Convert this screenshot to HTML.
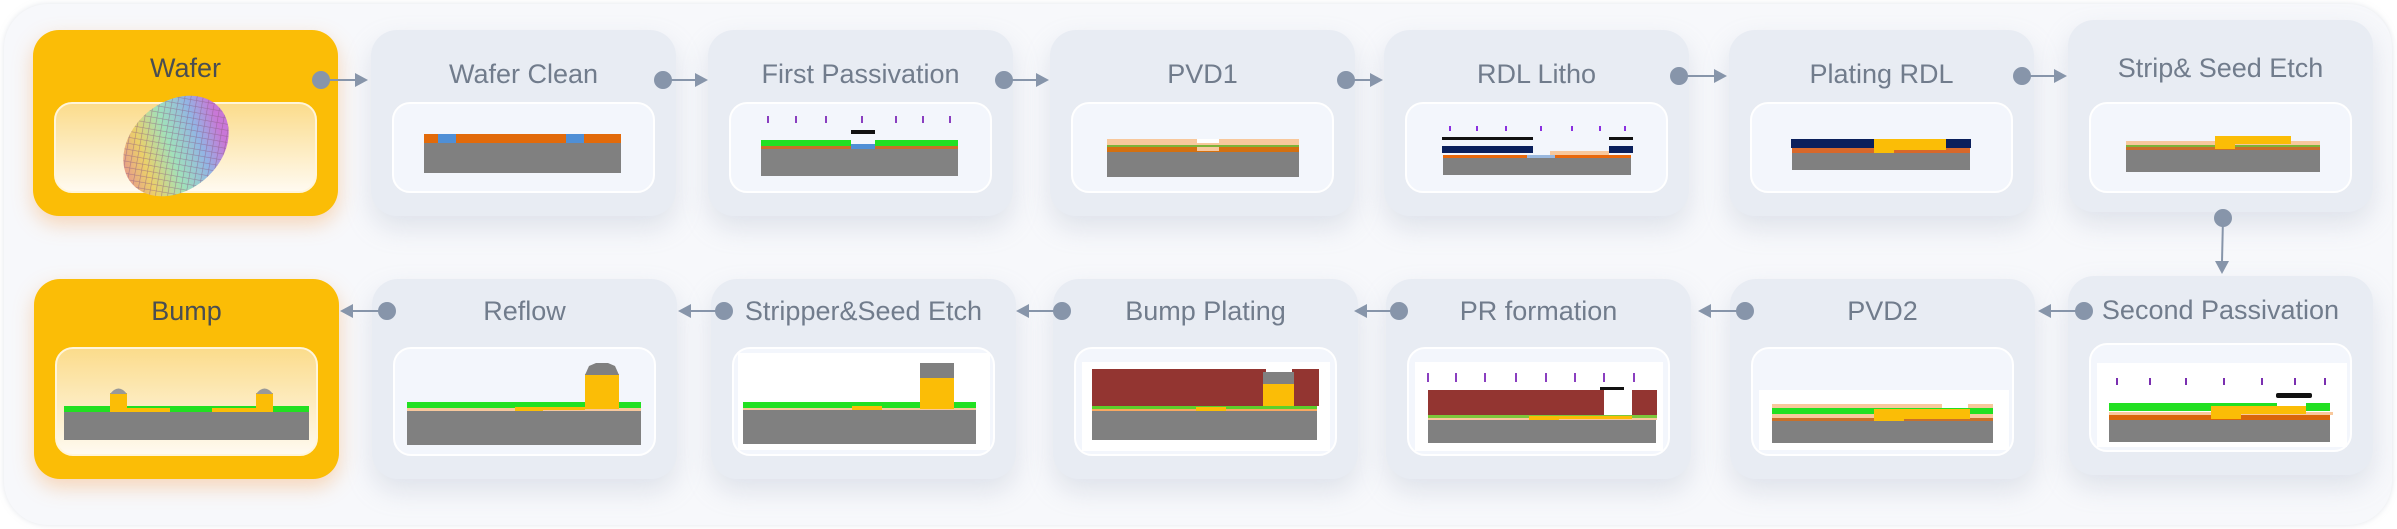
<!DOCTYPE html>
<html><head><meta charset="utf-8"><style>
*{margin:0;padding:0;box-sizing:border-box}
body{width:2397px;height:529px;background:#fff;position:relative;overflow:hidden;font-family:"Liberation Sans",sans-serif}
.panel{position:absolute;left:4px;top:4px;width:2388px;height:521px;border-radius:44px;background:#f7f8fb;box-shadow:0 0 6px rgba(200,205,215,.5)}
.card{position:absolute;width:305px;border-radius:26px;background:#e8ecf3;box-shadow:0 12px 26px rgba(160,172,195,.28)}
.r1{top:30px;height:186px}.r2{top:279px;height:200px}
.y{background:#fbbd06;box-shadow:0 8px 20px rgba(245,150,60,.35)}
.t{position:absolute;left:0;width:100%;text-align:center;font-size:27px;color:#717c8c;line-height:30px}
.r1 .t{top:29px}.r2 .t{top:17px}
.y .t{color:#4a4e52}
.in{position:absolute;left:21px;width:263px;border-radius:18px;background:#f3f6fc;border:2px solid #fff;overflow:visible}
.r1 .in{top:72px;height:91px}.r2 .in{top:68px;height:109px}
.y .in{background:linear-gradient(#fbdc8c,#fffaf0);border-color:#fff5da}
.in svg{position:absolute;left:-2px;top:-2px}
svg.c{position:absolute;left:0;top:0}
</style></head><body>
<div class="panel"></div>

<!-- Row 1 -->
<div class="card r1 y" style="left:33px"><div class="t" style="top:23px">Wafer</div><div class="in"></div></div>
<div class="card r1" style="left:371px"><div class="t">Wafer Clean</div><div class="in"><svg width="263" height="91">
<rect x="32" y="32" width="197" height="9" fill="#e26a0a"/><rect x="46" y="32" width="18" height="9" fill="#4f8fd6"/><rect x="174" y="32" width="18" height="9" fill="#4f8fd6"/><rect x="32" y="41" width="197" height="30" fill="#808080"/></svg></div></div>
<div class="card r1" style="left:708px"><div class="t">First Passivation</div><div class="in"><svg width="263" height="91">
<g fill="#8a3fc0"><rect x="38" y="14" width="2" height="7"/><rect x="66" y="14" width="2" height="7"/><rect x="96" y="14" width="2" height="7"/><rect x="132" y="14" width="2" height="7"/><rect x="166" y="14" width="2" height="7"/><rect x="193" y="14" width="2" height="7"/><rect x="220" y="14" width="2" height="7"/></g>
<rect x="122" y="28" width="24" height="4" fill="#111"/>
<rect x="32" y="38" width="90" height="6" fill="#22e022"/><rect x="146" y="38" width="83" height="6" fill="#22e022"/>
<rect x="32" y="44" width="197" height="3" fill="#c8702a"/><rect x="122" y="42" width="24" height="5" fill="#4f8fd6"/>
<rect x="32" y="47" width="197" height="27" fill="#828282"/></svg></div></div>
<div class="card r1" style="left:1050px"><div class="t">PVD1</div><div class="in"><svg width="263" height="91">
<rect x="36" y="37" width="192" height="6" fill="#f8c89c"/><rect x="36" y="43" width="192" height="2" fill="#7cb33a"/><rect x="36" y="45" width="192" height="5" fill="#d47010"/>
<rect x="126" y="37" width="22" height="4" fill="#fff"/><rect x="126" y="45" width="22" height="4" fill="#f8c89c"/>
<rect x="36" y="50" width="192" height="25" fill="#808080"/></svg></div></div>
<div class="card r1" style="left:1384px"><div class="t">RDL Litho</div><div class="in"><svg width="263" height="91">
<g fill="#8a2fe0"><rect x="44" y="24" width="2" height="5"/><rect x="71" y="24" width="2" height="5"/><rect x="100" y="24" width="2" height="5"/><rect x="135" y="24" width="2" height="5"/><rect x="166" y="24" width="2" height="5"/><rect x="194" y="24" width="2" height="5"/><rect x="219" y="24" width="2" height="5"/></g>
<rect x="37" y="35" width="91" height="3" fill="#111"/><rect x="204" y="35" width="24" height="3" fill="#111"/>
<rect x="37" y="44" width="91" height="7" fill="#0a1f5c"/><rect x="204" y="44" width="24" height="7" fill="#0a1f5c"/>
<rect x="145" y="49" width="59" height="4" fill="#f8c89c"/>
<rect x="38" y="53" width="188" height="3" fill="#e8680c"/><rect x="122" y="53" width="28" height="3" fill="#9ab8de"/>
<rect x="38" y="56" width="188" height="17" fill="#808080"/></svg></div></div>
<div class="card r1" style="left:1729px"><div class="t">Plating RDL</div><div class="in"><svg width="263" height="91">
<rect x="41" y="37" width="83" height="9" fill="#0a1f5c"/><rect x="196" y="37" width="25" height="9" fill="#0a1f5c"/>
<rect x="42" y="46" width="178" height="5" fill="#d8682a"/><rect x="124" y="37" width="72" height="11" fill="#fbbd06"/><rect x="124" y="48" width="20" height="3" fill="#fbbd06"/>
<rect x="42" y="51" width="178" height="17" fill="#808080"/></svg></div></div>
<div class="card r1" style="left:2068px;top:20px;height:192px"><div class="t" style="top:33px">Strip&amp; Seed Etch</div><div class="in" style="top:82px"><svg width="263" height="91">
<rect x="37" y="39" width="194" height="4" fill="#f8c89c"/><rect x="37" y="43" width="194" height="2" fill="#7cb33a"/><rect x="37" y="45" width="194" height="3" fill="#c8702a"/>
<rect x="126" y="34" width="76" height="8" fill="#fbbd06"/><rect x="126" y="42" width="20" height="5" fill="#fbbd06"/>
<rect x="37" y="48" width="194" height="22" fill="#808080"/></svg></div></div>

<!-- Row 2 -->
<div class="card r2 y" style="left:34px"><div class="t">Bump</div><div class="in"><svg width="263" height="109">
<rect x="9" y="59" width="245" height="6" fill="#22e022"/>
<rect x="72" y="61" width="43" height="4" fill="#fbbd06"/><rect x="157" y="61" width="44" height="4" fill="#fbbd06"/>
<rect x="55" y="46" width="17" height="19" fill="#fbbd06"/><rect x="201" y="46" width="17" height="19" fill="#fbbd06"/>
<path d="M55 47 Q63.5 36 72 47Z" fill="#999"/><path d="M201 47 Q209.5 36 218 47Z" fill="#999"/>
<rect x="9" y="65" width="245" height="28" fill="#808080"/></svg></div></div>
<div class="card r2" style="left:372px"><div class="t">Reflow</div><div class="in"><svg width="263" height="109">
<rect x="14" y="55" width="234" height="6" fill="#22e022"/><rect x="14" y="61" width="234" height="3" fill="#f8c89c"/>
<rect x="122" y="60" width="28" height="6" fill="#fbbd06"/><rect x="150" y="60" width="42" height="3" fill="#fbbd06"/>
<rect x="192" y="27" width="34" height="35" fill="#fbbd06"/><path d="M192 28 L196 19 L203 16 L215 16 L222 19 L226 28Z" fill="#808080"/>
<rect x="14" y="64" width="234" height="34" fill="#808080"/></svg></div></div>
<div class="card r2" style="left:711px"><div class="t">Stripper&amp;Seed Etch</div><div class="in"><svg width="263" height="109">
<rect x="6" y="6" width="252" height="97" fill="#fff"/>
<rect x="11" y="55" width="233" height="6" fill="#22e022"/><rect x="11" y="61" width="233" height="2" fill="#f8c89c"/>
<rect x="120" y="59" width="30" height="5" fill="#fbbd06"/>
<rect x="188" y="31" width="34" height="31" fill="#fbbd06"/><rect x="188" y="16" width="34" height="15" fill="#808080"/>
<rect x="11" y="63" width="233" height="34" fill="#808080"/></svg></div></div>
<div class="card r2" style="left:1053px"><div class="t">Bump Plating</div><div class="in"><svg width="263" height="109">
<rect x="8" y="15" width="248" height="89" fill="#fff"/>
<rect x="18" y="22" width="174" height="37" fill="#933531"/><rect x="218" y="22" width="27" height="37" fill="#933531"/>
<rect x="189" y="37" width="31" height="25" fill="#fbbd06"/><rect x="189" y="25" width="31" height="12" fill="#808080"/>
<rect x="18" y="59" width="225" height="3" fill="#5cd02a"/><rect x="18" y="62" width="225" height="2" fill="#f8a860"/>
<rect x="122" y="60" width="30" height="5" fill="#fbbd06"/>
<rect x="18" y="64" width="225" height="29" fill="#808080"/></svg></div></div>
<div class="card r2" style="left:1386px"><div class="t">PR formation</div><div class="in"><svg width="263" height="109">
<rect x="8" y="15" width="248" height="89" fill="#fff"/>
<g fill="#8a3fc0"><rect x="20" y="26" width="2" height="9"/><rect x="48" y="26" width="2" height="9"/><rect x="77" y="26" width="2" height="9"/><rect x="108" y="26" width="2" height="9"/><rect x="138" y="26" width="2" height="9"/><rect x="167" y="26" width="2" height="9"/><rect x="196" y="26" width="2" height="9"/><rect x="226" y="26" width="2" height="9"/></g>
<rect x="193" y="40" width="24" height="3" fill="#111"/>
<rect x="21" y="43" width="176" height="25" fill="#933531"/><rect x="225" y="43" width="25" height="25" fill="#933531"/>
<rect x="21" y="68" width="229" height="3" fill="#7cc83a"/><rect x="21" y="71" width="229" height="2" fill="#f8c89c"/>
<rect x="122" y="69" width="30" height="5" fill="#fbbd06"/><rect x="152" y="69" width="73" height="3" fill="#fbbd06"/>
<rect x="21" y="73" width="228" height="23" fill="#808080"/></svg></div></div>
<div class="card r2" style="left:1730px"><div class="t">PVD2</div><div class="in"><svg width="263" height="109">
<rect x="8" y="43" width="250" height="60" fill="#fff"/>
<rect x="21" y="57" width="221" height="4" fill="#f8c89c"/><rect x="191" y="57" width="26" height="4" fill="#fff"/>
<rect x="21" y="61" width="221" height="6" fill="#22e022"/><rect x="21" y="67" width="221" height="4" fill="#f8c89c"/><rect x="21" y="71" width="221" height="3" fill="#c8702a"/>
<rect x="123" y="62" width="96" height="10" fill="#fbbd06"/><rect x="123" y="72" width="30" height="3" fill="#fbbd06"/>
<rect x="21" y="74" width="221" height="22" fill="#808080"/></svg></div></div>
<div class="card r2" style="left:2068px;top:276px;height:199px"><div class="t" style="top:19px">Second Passivation</div><div class="in" style="top:67px"><svg width="263" height="109">
<rect x="8" y="20" width="250" height="84" fill="#fff"/>
<g fill="#7a2fb0"><rect x="27" y="35" width="2" height="7"/><rect x="60" y="35" width="2" height="7"/><rect x="96" y="35" width="2" height="7"/><rect x="134" y="35" width="2" height="7"/><rect x="172" y="35" width="2" height="7"/><rect x="205" y="35" width="2" height="7"/><rect x="235" y="35" width="2" height="7"/></g>
<rect x="187" y="50" width="36" height="5" rx="2" fill="#111"/>
<rect x="20" y="60" width="168" height="8" fill="#22e022"/><rect x="217" y="60" width="24" height="8" fill="#22e022"/>
<rect x="20" y="69" width="224" height="3" fill="#f8c89c"/><rect x="20" y="72" width="221" height="5" fill="#d9660c"/>
<rect x="122" y="63" width="95" height="8" fill="#fbbd06"/><rect x="122" y="71" width="30" height="5" fill="#fbbd06"/>
<rect x="20" y="77" width="221" height="22" fill="#808080"/></svg></div></div>

<!-- Wafer image + connectors -->
<svg class="c" width="2397" height="529">
<defs>
<linearGradient id="rb" x1="0" y1="0" x2="1" y2="0.3"><stop offset="0" stop-color="#e06a8a"/><stop offset=".3" stop-color="#e8c850"/><stop offset=".55" stop-color="#90dcb0"/><stop offset=".8" stop-color="#80a8e0"/><stop offset="1" stop-color="#c060d0"/></linearGradient>
<pattern id="gr" width="6" height="6" patternUnits="userSpaceOnUse" patternTransform="rotate(-40)"><path d="M0 0H6M0 0V6" stroke="#8a5a80" stroke-width="1.2" opacity=".6"/></pattern>
</defs>
<g transform="translate(176,146) rotate(-40)"><ellipse rx="58" ry="44" fill="url(#rb)"/><ellipse rx="58" ry="44" fill="#fff" opacity=".15"/><ellipse rx="58" ry="44" fill="url(#gr)"/></g>
<g fill="#8795aa" stroke="#8795aa" stroke-width="2">
<g><circle cx="321" cy="80" r="8"/><line x1="321" y1="80" x2="356" y2="80"/><path d="M355 73 L368 80 L355 87Z" stroke="none"/></g>
<g><circle cx="663" cy="80" r="8"/><line x1="663" y1="80" x2="696" y2="80"/><path d="M695 73 L708 80 L695 87Z" stroke="none"/></g>
<g><circle cx="1004" cy="80" r="8"/><line x1="1004" y1="80" x2="1037" y2="80"/><path d="M1036 73 L1049 80 L1036 87Z" stroke="none"/></g>
<g><circle cx="1346" cy="80" r="8"/><line x1="1346" y1="80" x2="1371" y2="80"/><path d="M1370 73 L1383 80 L1370 87Z" stroke="none"/></g>
<g><circle cx="1679" cy="76" r="8"/><line x1="1679" y1="76" x2="1715" y2="76"/><path d="M1714 69 L1727 76 L1714 83Z" stroke="none"/></g>
<g><circle cx="2022" cy="76" r="8"/><line x1="2022" y1="76" x2="2055" y2="76"/><path d="M2054 69 L2067 76 L2054 83Z" stroke="none"/></g>
<g><circle cx="2223" cy="218" r="8"/><line x1="2223" y1="218" x2="2222" y2="262"/><path d="M2215 261 L2222 274 L2229 261Z" stroke="none"/></g>
<g><circle cx="387" cy="311" r="8"/><line x1="387" y1="311" x2="352" y2="311"/><path d="M353 304 L340 311 L353 318Z" stroke="none"/></g>
<g><circle cx="724" cy="311" r="8"/><line x1="724" y1="311" x2="690" y2="311"/><path d="M691 304 L678 311 L691 318Z" stroke="none"/></g>
<g><circle cx="1062" cy="311" r="8"/><line x1="1062" y1="311" x2="1028" y2="311"/><path d="M1029 304 L1016 311 L1029 318Z" stroke="none"/></g>
<g><circle cx="1399" cy="311" r="8"/><line x1="1399" y1="311" x2="1366" y2="311"/><path d="M1367 304 L1354 311 L1367 318Z" stroke="none"/></g>
<g><circle cx="1745" cy="311" r="8"/><line x1="1745" y1="311" x2="1710" y2="311"/><path d="M1711 304 L1698 311 L1711 318Z" stroke="none"/></g>
<g><circle cx="2084" cy="311" r="8"/><line x1="2084" y1="311" x2="2050" y2="311"/><path d="M2051 304 L2038 311 L2051 318Z" stroke="none"/></g>
</g>
</svg>
</body></html>
